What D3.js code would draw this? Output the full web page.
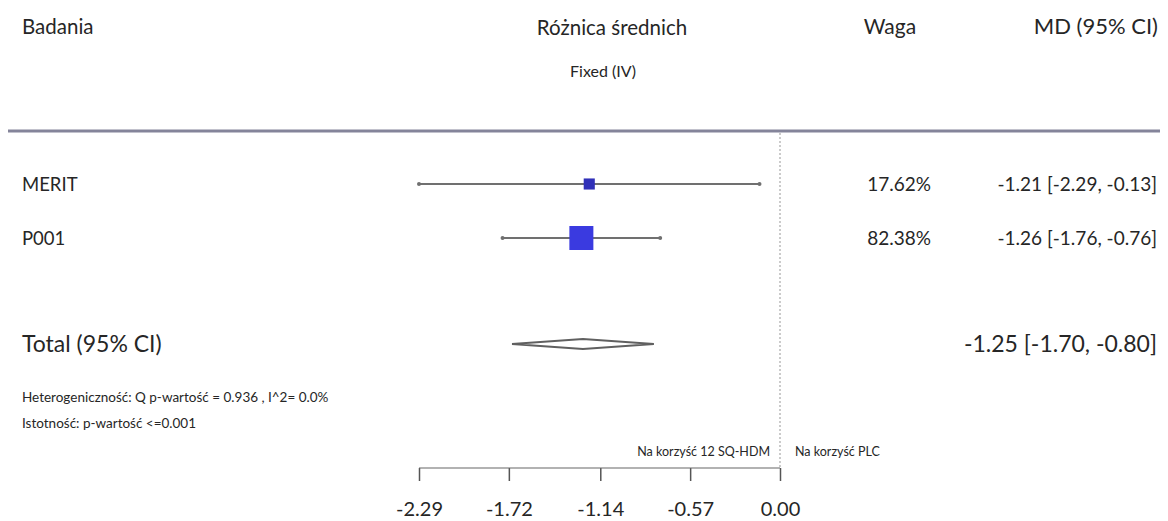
<!DOCTYPE html>
<html><head><meta charset="utf-8">
<script src="https://cdn.jsdelivr.net/npm/d3@7"></script>
<style>
html,body{margin:0;padding:0;background:#fff;}
text{font-family:Lato,"Open Sans",sans-serif;fill:#262626;}
</style></head>
<body>
<svg id="c" width="1168" height="521"></svg>
<script>
const studies = ["MERIT", "P001"];
const md = [-1.21, -1.26];
const lo = [-2.29, -1.76];
const hi = [-0.13, -0.76];
const weights = ["17.62%", "82.38%"];
const weightVals = [17.62, 82.38];
const ciLabels = ["-1.21 [-2.29, -0.13]", "-1.26 [-1.76, -0.76]"];
const total = {md: -1.25, lo: -1.70, hi: -0.80, label: "-1.25 [-1.70, -0.80]"};
const tickValues = [-2.29, -1.72, -1.14, -0.57, 0.00];
const tickLabels = ["-2.29", "-1.72", "-1.14", "-0.57", "0.00"];

const svg = d3.select("#c");
const x = d3.scaleLinear().domain([-2.29, 0]).range([419, 780]);
const rowY = d3.scalePoint().domain(studies).range([184, 238]);
const sizeScale = d3.scaleSqrt().domain([0, 82.38]).range([0, 24]);

// headers
svg.append("text").attr("x", 22).attr("y", 34).attr("font-size", 20.5).text("Badania");
svg.append("text").attr("x", 612).attr("y", 35).attr("font-size", 20.5).attr("text-anchor","middle").text("Różnica średnich");
svg.append("text").attr("x", 603).attr("y", 77).attr("font-size", 16).attr("text-anchor","middle").text("Fixed (IV)");
svg.append("text").attr("x", 890).attr("y", 34).attr("font-size", 21).attr("text-anchor","middle").text("Waga");
svg.append("text").attr("x", 1158).attr("y", 34).attr("font-size", 22).attr("text-anchor","end").text("MD (95% CI)");

svg.append("line").attr("x1", 8).attr("x2", 1160).attr("y1", 131).attr("y2", 131)
  .attr("stroke", "#84849a").attr("stroke-width", 3);

// zero line
svg.append("line").attr("x1", x(0)).attr("x2", x(0)).attr("y1", 133).attr("y2", 468)
  .attr("stroke", "#bbb").attr("stroke-width", 1.5).attr("stroke-dasharray", "2,2");

// study rows
studies.forEach((s, i) => {
  const y = rowY(s);
  svg.append("text").attr("x", 22).attr("y", y + 7).attr("font-size", 18.5).text(s);
  svg.append("line").attr("x1", x(lo[i])).attr("x2", x(hi[i])).attr("y1", y).attr("y2", y)
    .attr("stroke", "#707070").attr("stroke-width", 1.8);
  [lo[i], hi[i]].forEach(v => {
    svg.append("circle").attr("cx", x(v)).attr("cy", y).attr("r", 2).attr("fill", "#707070");
  });
  const sz = Math.max(9, sizeScale(weightVals[i]));
  svg.append("rect").attr("x", x(md[i]) - sz/2).attr("y", y - sz/2).attr("width", sz).attr("height", sz)
    .attr("fill", i === 0 ? "#3030b8" : "#3a3ae0");
  svg.append("text").attr("x", 931).attr("y", y + 7).attr("font-size", 19).attr("text-anchor","end").text(weights[i]);
  svg.append("text").attr("x", 1157).attr("y", y + 7).attr("font-size", 19).attr("text-anchor","end").text(ciLabels[i]);
});

// total diamond
const ty = 344;
svg.append("text").attr("x", 22).attr("y", ty + 8).attr("font-size", 23).text("Total (95% CI)");
svg.append("path")
  .attr("d", `M${x(total.lo)},${ty} L${x(total.md)},${ty-5} L${x(total.hi)},${ty} L${x(total.md)},${ty+5} Z`)
  .attr("fill", "#fff").attr("stroke", "#606060").attr("stroke-width", 1.8);
svg.append("text").attr("x", 1157).attr("y", ty + 8).attr("font-size", 23).attr("text-anchor","end").text(total.label);

// notes
svg.append("text").attr("x", 22).attr("y", 402).attr("font-size", 13.5).text("Heterogeniczność: Q p-wartość = 0.936 , I^2= 0.0%");
svg.append("text").attr("x", 22).attr("y", 428).attr("font-size", 13.5).text("Istotność: p-wartość <=0.001");

svg.append("text").attr("x", 770).attr("y", 456).attr("font-size", 12.5).attr("text-anchor","end").text("Na korzyść 12 SQ-HDM");
svg.append("text").attr("x", 795).attr("y", 456).attr("font-size", 12.5).text("Na korzyść PLC");

// axis
const axis = d3.axisBottom(x).tickValues(tickValues).tickFormat((d, i) => tickLabels[i]).tickSize(-13).tickSizeOuter(0);
const g = svg.append("g").attr("transform", "translate(0,481)").call(axis);
g.select(".domain").remove();
g.append("line").attr("x1", x(-2.29)).attr("x2", x(0)).attr("y1", -13).attr("y2", -13).attr("stroke", "#666").attr("stroke-width", 1.2);
g.selectAll(".tick line").attr("stroke", "#555").attr("stroke-width", 1.5);
g.selectAll(".tick text").attr("y", 21).attr("dy", "0.71em").attr("font-size", 20)
  .attr("font-family", "Lato, 'Open Sans', sans-serif").attr("fill", "#262626");
</script>
</body></html>
